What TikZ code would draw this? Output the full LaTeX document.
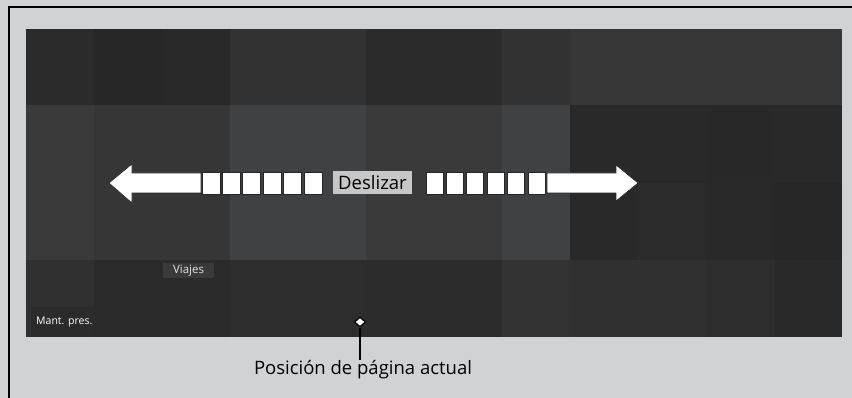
\documentclass[tikz,border=0pt]{standalone}
\usepackage{fontspec}
\setmainfont{Open Sans}
\usetikzlibrary{arrows.meta, positioning, calc, shapes.geometric}

\definecolor{bgray}{HTML}{D1D2D4}
\definecolor{tA}{HTML}{2C2B2C}
\definecolor{tB}{HTML}{272627}
\definecolor{tC}{HTML}{2A292A}
\definecolor{tD}{HTML}{323232}
\definecolor{tE}{HTML}{373737}
\definecolor{tF}{HTML}{3A3A3A}
\definecolor{tG}{HTML}{363636}
\definecolor{tH}{HTML}{404143}
\definecolor{tI}{HTML}{2B2A2B}
\definecolor{tJ}{HTML}{2E2D2E}
\definecolor{tK}{HTML}{313031}
\definecolor{tL}{HTML}{333333}
\definecolor{tM}{HTML}{2D2C2D}
\definecolor{tN}{HTML}{292828}

\tikzset{
  dashbox/.style={fill=white, draw=black!85, line width=0.8pt,
    minimum width=18pt, minimum height=22pt, inner sep=0pt},
  swipearrow/.style={fill=white, draw=black!85, line width=0.6pt},
  tiletag/.style={fill=tF, text=white!88!black, inner sep=0pt,
    font=\fontsize{11.5}{14}\selectfont}
}

\begin{document}
\begin{tikzpicture}[x=1pt, y=-1pt, >=Stealth]
  \fill[bgray] (0,0) rectangle (852,398);
  \useasboundingbox (0,0) rectangle (852,398);
  \draw[black, line width=1.5pt] (9,398) -- (9,7) -- (852,7);

  % tiles of the screen
  \foreach \xa/\xb/\ya/\yb/\col in {
      26/94/29/105/tA, 94/162/29/105/tB, 162/230/29/105/tC,
      230/366/29/105/tD, 366/502/29/105/tA, 502/570/29/105/tD,
      570/842/29/105/tE,
      26/94/105/260/tF, 94/230/105/260/tG, 230/366/105/260/tH,
      366/502/105/260/tF, 502/570/105/260/tH, 570/842/105/260/tC,
      706/774/105/183/tN, 638/706/183/260/tM, 774/842/183/260/tB,
      26/94/260/337/tK, 94/230/260/337/tI, 230/366/260/337/tJ,
      366/502/260/337/tM, 502/570/260/337/tL, 570/706/260/337/tK,
      706/774/260/337/tJ, 774/842/260/337/tC, 31/94/307/337/tA}
    \fill[\col] (\xa,\ya) rectangle (\xb,\yb);

  % swipe arrows
  \draw[swipearrow] (109,183) -- (132,164) -- (132,173) -- (201,173)
    -- (201,193) -- (132,193) -- (132,203) -- cycle;
  \draw[swipearrow] (638,183) -- (616,165) -- (616,173) -- (547,173)
    -- (547,193) -- (616,193) -- (616,201) -- cycle;
  \foreach \i in {0,...,5} {
    \node[dashbox] (ls\i) at (211+20.4*\i,183) {};
    \node[dashbox, minimum width=17pt] (rs\i) at (434.5+20.4*\i,183) {};
  }

  \node[fill=black!22, text=black, minimum width=79pt, minimum height=23pt,
    inner sep=0pt, font=\fontsize{18.5}{22}\selectfont] (swipe) at (372.5,182.5) {Deslizar};

  \node[tiletag, minimum width=51pt, minimum height=15pt] (trips) at (188.5,270.5) {Viajes};
  \node[anchor=base west, text=white, inner sep=0pt,
    font=\fontsize{10.5}{13}\selectfont] (maint) at (36,324) {Mant. pres.};

  % current page marker
  \node[diamond, fill=white, draw=black, line width=1.2pt, inner sep=0pt,
    minimum width=11pt, minimum height=10pt] (marker) at (360,322) {};
  \node[anchor=north, inner sep=0pt, font=\fontsize{18.5}{22}\selectfont]
    (pagepos) at (363,360) {Posición de página actual};
  \draw[black, line width=2pt] (marker.south) -- (marker.south |- pagepos.north);
\end{tikzpicture}
\end{document}
